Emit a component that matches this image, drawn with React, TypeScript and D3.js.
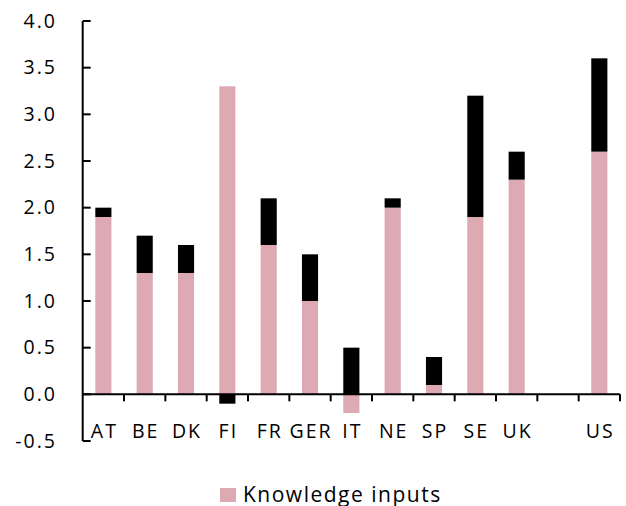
import React, { useEffect, useRef } from 'react';
import * as d3 from 'd3';

const categories = ['AT', 'BE', 'DK', 'FI', 'FR', 'GER', 'IT', 'NE', 'SP', 'SE', 'UK', '', 'US'];
const knowledgeInputs = [1.9, 1.3, 1.3, 3.3, 1.6, 1.0, -0.2, 2.0, 0.1, 1.9, 2.3, 0, 2.6];
const otherPart = [0.1, 0.4, 0.3, -0.1, 0.5, 0.5, 0.5, 0.1, 0.3, 1.3, 0.3, 0, 1.0];
const yTicks = [-0.5, 0, 0.5, 1.0, 1.5, 2.0, 2.5, 3.0, 3.5, 4.0];

const W = 626;
const H = 506;
const PINK = '#dda9b3';
const FONT = '"Open Sans", "DejaVu Sans", sans-serif';

const App = () => {
  const ref = useRef<SVGSVGElement | null>(null);

  useEffect(() => {
    if (!ref.current) return;
    const svg = d3.select(ref.current);
    svg.selectAll('*').remove();

    const left = 82.7;
    const right = 620;
    const y = d3.scaleLinear().domain([-0.5, 4]).range([441, 21]);
    const x = d3
      .scaleBand()
      .domain(categories.map((c, i) => c + '_' + i))
      .range([left, right])
      .paddingInner(0.61)
      .paddingOuter(0.305);
    const step = x.step();

    const rows = categories.map((c, i) => ({
      key: c + '_' + i,
      knowledge: knowledgeInputs[i],
      other: otherPart[i],
    }));
    const stack = d3
      .stack<any>()
      .keys(['knowledge', 'other'])
      .offset(d3.stackOffsetDiverging);
    const series = stack(rows);
    const colors: Record<string, string> = { knowledge: PINK, other: '#000000' };

    // bars
    svg
      .append('g')
      .selectAll('g')
      .data(series)
      .join('g')
      .attr('fill', (s) => colors[s.key])
      .selectAll('rect')
      .data((s) => s)
      .join('rect')
      .attr('x', (d: any) => x(d.data.key)!)
      .attr('width', x.bandwidth())
      .attr('y', (d) => y(Math.max(d[0], d[1])))
      .attr('height', (d) => Math.abs(y(d[0]) - y(d[1])));

    const axis = svg.append('g').attr('stroke', '#000').attr('stroke-width', 2);

    // y axis
    axis
      .append('line')
      .attr('x1', left)
      .attr('x2', left)
      .attr('y1', y(4))
      .attr('y2', y(-0.5));
    axis
      .selectAll('.ytick')
      .data(yTicks)
      .join('line')
      .attr('class', 'ytick')
      .attr('x1', left)
      .attr('x2', left + 8)
      .attr('y1', (d) => y(d))
      .attr('y2', (d) => y(d));

    // x axis at zero
    axis
      .append('line')
      .attr('x1', left)
      .attr('x2', right)
      .attr('y1', y(0))
      .attr('y2', y(0));
    axis
      .selectAll('.xtick')
      .data(d3.range(1, categories.length + 1))
      .join('line')
      .attr('class', 'xtick')
      .attr('x1', (k) => left + step * k)
      .attr('x2', (k) => left + step * k)
      .attr('y1', y(0))
      .attr('y2', y(0) + 7);

    // y labels
    svg
      .append('g')
      .selectAll('text')
      .data(yTicks)
      .join('text')
      .attr('x', 57)
      .attr('y', (d) => y(d))
      .attr('dy', '0.35em')
      .attr('text-anchor', 'end')
      .style('font-family', FONT)
      .style('font-size', '19.5px')
      .style('letter-spacing', '2px')
      .attr('fill', '#000')
      .text((d) => d.toFixed(1));

    // category labels (low position)
    svg
      .append('g')
      .selectAll('text')
      .data(rows)
      .join('text')
      .attr('x', (d) => x(d.key)! + x.bandwidth() / 2 + 1)
      .attr('y', y(-0.5) - 3.5)
      .attr('text-anchor', 'middle')
      .style('font-family', FONT)
      .style('font-size', '19.5px')
      .style('letter-spacing', '2px')
      .attr('fill', '#000')
      .text((d) => d.key.split('_')[0]);

    // legend
    const lg = svg.append('g');
    lg.append('rect').attr('x', 220).attr('y', 488).attr('width', 16).attr('height', 14).attr('fill', PINK);
    lg.append('text')
      .attr('x', 243)
      .attr('y', 502)
      .style('font-family', FONT)
      .style('font-size', '21px')
      .style('letter-spacing', '1.5px')
      .attr('fill', '#000')
      .text('Knowledge inputs');
  }, []);

  return (
    <svg
      ref={ref}
      width={W}
      height={H}
      style={{ position: 'absolute', left: 0, top: 0, background: '#fff' }}
    />
  );
};

export default App;
